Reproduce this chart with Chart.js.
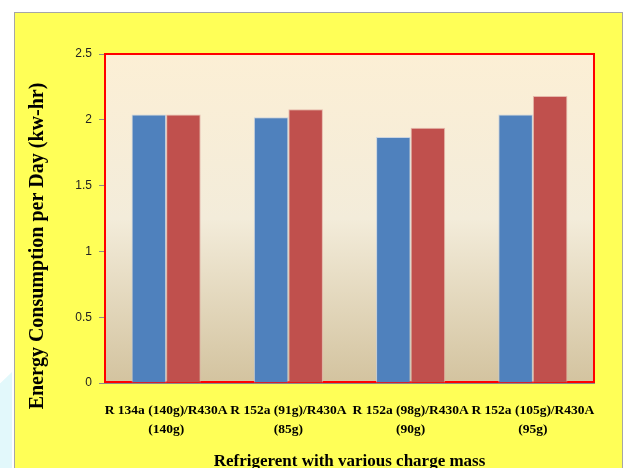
<!DOCTYPE html>
<html>
<head>
<meta charset="utf-8">
<script src="https://cdn.jsdelivr.net/npm/chart.js@4/dist/chart.umd.min.js"></script>
<style>
    html, body { margin: 0; padding: 0; background: #fff; overflow: hidden; }
    body { width: 625px; height: 468px; position: relative; }
    .mark { position: absolute; left: 0; top: 372px; width: 12px; height: 96px; background: #e2f8fb;
            clip-path: polygon(0 12%, 100% 0, 100% 100%, 0 100%); }
    .panel { position: absolute; left: 14px; top: 12px; width: 607px; height: 470px;
             background: #ffff57; border: 1px solid #a6a6a6; border-bottom: none; }
    .wrap { position: absolute; left: 0; top: 0; width: 625px; height: 480px; }
</style>
</head>
<body>
<div class="mark"></div>
<div class="panel"></div>
<div class="wrap"><canvas id="energyChart"></canvas></div>
<script>
const categories = [
    ['R 134a (140g)/R430A', '(140g)'],
    ['R 152a (91g)/R430A', '(85g)'],
    ['R 152a (98g)/R430A', '(90g)'],
    ['R 152a (105g)/R430A', '(95g)']
];
const firstRefrigerant = [2.04, 2.02, 1.87, 2.04];
const r430a = [2.04, 2.08, 1.94, 2.18];
const yTicks = [0, 0.5, 1, 1.5, 2, 2.5];
const yTickLabels = ['0', '0.5', '1', '1.5', '2', '2.5'];

const yTitle = 'Energy Consumption per Day (kw-hr)';
const xTitle = 'Refrigerent with various charge mass';

document.addEventListener('DOMContentLoaded', () => {
    // plot area: gradient fill + red frame, under the bars
    const plotArea = {
        id: 'plotArea',
        beforeDraw(chart) {
            const { ctx, chartArea: a } = chart;
            const g = ctx.createLinearGradient(0, a.top, 0, a.bottom);
            g.addColorStop(0, '#fcefd5');
            g.addColorStop(0.5, '#f3ecda');
            g.addColorStop(1, '#d3c39f');
            ctx.save();
            ctx.fillStyle = g;
            ctx.fillRect(a.left, a.top, a.right - a.left, a.bottom - a.top);
            ctx.restore();
        },
        beforeDatasetsDraw(chart) {
            const { ctx, chartArea: a } = chart;
            ctx.save();
            ctx.strokeStyle = '#ff0000';
            ctx.lineWidth = 2;
            ctx.strokeRect(a.left, a.top, a.right - a.left, a.bottom - a.top - 1);
            ctx.restore();
        },
        afterDraw(chart) {
            // y title sits a bit below the axis centre in the original
            const { ctx } = chart;
            ctx.save();
            ctx.translate(38, 246);
            ctx.rotate(-Math.PI / 2);
            ctx.font = 'bold 20px "Liberation Serif"';
            ctx.fillStyle = '#000';
            ctx.textAlign = 'center';
            ctx.textBaseline = 'middle';
            ctx.fillText(yTitle, 0, 0);
            ctx.restore();
        }
    };

    const ctx = document.getElementById('energyChart').getContext('2d');
    new Chart(ctx, {
        type: 'bar',
        data: {
            labels: categories,
            datasets: [
                {
                    label: 'R134a / R152a',
                    data: firstRefrigerant,
                    backgroundColor: '#4f81bd',
                    borderColor: 'rgba(190,205,225,0.8)',
                    borderWidth: 1
                },
                {
                    label: 'R430A',
                    data: r430a,
                    backgroundColor: '#c0504d',
                    borderColor: 'rgba(225,170,160,0.8)',
                    borderWidth: 1
                }
            ]
        },
        options: {
            responsive: true,
            maintainAspectRatio: false,
            animation: false,
            datasets: {
                bar: { categoryPercentage: 0.565, barPercentage: 1 }
            },
            layout: { padding: { left: 0, top: 54, right: 31, bottom: 0 } },
            plugins: {
                legend: { display: false },
                tooltip: { enabled: false }
            },
            scales: {
                x: {
                    afterFit: (scale) => { scale.height = 97; },
                    grid: { display: true, drawOnChartArea: false, drawTicks: false },
                    border: { display: true, color: '#8c8c8c', width: 1 },
                    ticks: {
                        color: '#000',
                        padding: 18,
                        maxRotation: 0,
                        autoSkip: false,
                        font: { family: '"Liberation Serif"', size: 13.5, weight: 'bold', lineHeight: 1.4 }
                    },
                    title: {
                        display: true,
                        text: xTitle,
                        color: '#000',
                        padding: { top: 0, bottom: 8 },
                        font: { family: '"Liberation Serif"', size: 17, weight: 'bold' }
                    }
                },
                y: {
                    min: 0,
                    max: 2.5,
                    afterFit: (scale) => { scale.width = 105; },
                    afterBuildTicks: (scale) => { scale.ticks = yTicks.map(v => ({ value: v })); },
                    grid: { display: true, drawOnChartArea: false, tickLength: 6, color: '#8c8c8c' },
                    border: { display: false },
                    ticks: {
                        color: '#222',
                        padding: 7,
                        font: { family: '"Liberation Sans"', size: 12 },
                        callback: (value, i) => yTickLabels[i]
                    }
                }
            }
        },
        plugins: [plotArea]
    });
});
</script>
</body>
</html>
